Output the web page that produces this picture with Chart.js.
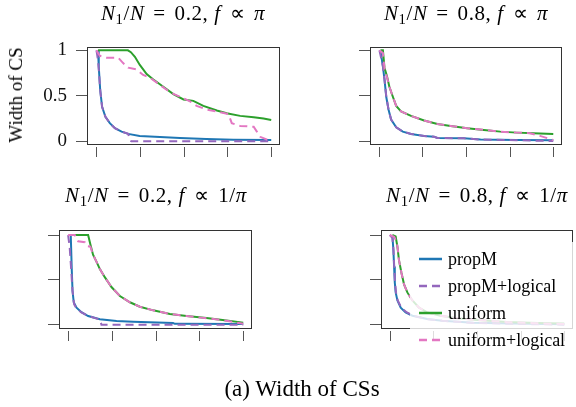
<!DOCTYPE html>
<html>
<head>
<meta charset="utf-8">
<script src="https://cdn.jsdelivr.net/npm/chart.js@4.4.1/dist/chart.umd.min.js"></script>
<style>
  body { margin: 0; background: #fff; }
  #wrap { position: relative; width: 576px; height: 407px; overflow: hidden; font-family: "Liberation Serif", serif; color: #000; }
  canvas { position: absolute; left: 0; top: 0; }
  .ttl { position: absolute; width: 300px; text-align: center; font-size: 21px; line-height: 22px; letter-spacing: 0.6px; white-space: nowrap; }
  .ttl sub { font-size: 0.7em; vertical-align: -0.25em; line-height: 0; }
  .rel { margin: 0 0.42em; font-style: normal; }
  #ylab { position: absolute; left: 16px; top: 95px; transform: translate(-50%, -50%) rotate(-90deg); font-size: 19px; white-space: nowrap; }
  #caption { position: absolute; left: 302px; top: 389px; transform: translate(-50%, -50%); font-size: 23px; white-space: nowrap; }
  #legend { position: absolute; left: 410px; top: 242px; width: 170px; height: 110px; background: rgba(255,255,255,0.8); z-index: 5; }
  .item { position: absolute; left: 0; height: 22px; line-height: 22px; font-size: 18px; white-space: nowrap; }
  .item svg { position: absolute; left: 9px; top: 9px; }
  .item span { position: absolute; left: 38px; top: 0; }
</style>
</head>
<body>
<div id="wrap">
  <canvas id="c1" width="576" height="407"></canvas>
  <canvas id="c2" width="576" height="407"></canvas>
  <canvas id="c3" width="576" height="407"></canvas>
  <canvas id="c4" width="576" height="407"></canvas>

  <div class="ttl" style="left:33px;top:2px"><i>N</i><sub>1</sub>/<i>N</i><span class="rel">=</span>0.2, <i>f</i><span class="rel">∝</span><i>π</i></div>
  <div class="ttl" style="left:316px;top:2px"><i>N</i><sub>1</sub>/<i>N</i><span class="rel">=</span>0.8, <i>f</i><span class="rel">∝</span><i>π</i></div>
  <div class="ttl" style="left:6px;top:184px"><i>N</i><sub>1</sub>/<i>N</i><span class="rel">=</span>0.2, <i>f</i><span class="rel">∝</span>1/<i>π</i></div>
  <div class="ttl" style="left:327px;top:184px"><i>N</i><sub>1</sub>/<i>N</i><span class="rel">=</span>0.8, <i>f</i><span class="rel">∝</span>1/<i>π</i></div>

  <div id="ylab">Width of CS</div>
  <div id="caption">(a) Width of CSs</div>
  <div id="legend"></div>
</div>

<script>
// series
const seriesNames = ['propM', 'propM+logical', 'uniform', 'uniform+logical'];
const seriesColors = ['#1f77b4', '#9467bd', '#2ca02c', '#e377c2'];
const seriesDashed = [false, true, false, true];

// axes
const xTicks = [0, 25, 50, 75, 100];
const yTicks = [0, 0.5, 1];
const yTickLabels = ['0', '0.5', '1'];

// panel 1: N1/N = 0.2, f ~ pi   ([x, width])
const p1PropM = [[1.3,1.0],[1.7,0.82],[2.5,0.57],[3.6,0.38],[5.5,0.27],[8,0.2],[10.9,0.144],[14.7,0.107],[18.5,0.082],[25,0.06],[36.6,0.047],[48,0.036],[63,0.025],[78.4,0.018],[100,0.014]];
const p1PropMLogical = [[0.4,1.0],[1.3,0.89],[1.9,0.74],[2.6,0.55],[3.6,0.38],[5.5,0.27],[8,0.2],[10.9,0.144],[14.7,0.107],[18.5,0.082],[19.5,0.01],[20.3,0],[100,0]];
const p1Uniform = [[1.3,1.0],[18.3,1.0],[20,0.98],[22.3,0.93],[25.1,0.84],[29,0.74],[32.8,0.68],[38.5,0.6],[44.2,0.52],[50,0.46],[55.6,0.445],[61.3,0.39],[69,0.34],[74.6,0.31],[82.3,0.28],[90,0.265],[95.6,0.25],[100,0.235]];
const p1UniformLogical = [[0.4,1.0],[2.3,0.94],[6.1,0.92],[12.8,0.92],[15.6,0.86],[18.5,0.81],[23.2,0.79],[27,0.73],[30.9,0.7],[36.6,0.62],[42.3,0.54],[48,0.49],[53.7,0.44],[57.5,0.39],[63.2,0.35],[70.9,0.32],[75.6,0.3],[77.5,0.2],[82.3,0.17],[90,0.16],[91.8,0.107],[93.7,0.05],[100,0.0]];

// panel 2: N1/N = 0.8, f ~ pi
const p2PropM = [[1.0,1.0],[2.4,0.82],[3.3,0.68],[4.3,0.49],[5.6,0.35],[7.1,0.24],[10,0.155],[13.8,0.107],[18.5,0.082],[26,0.06],[31.7,0.052],[33.6,0.037],[48.8,0.034],[58.3,0.02],[79,0.016],[100,0.013]];
const p2PropMLogical = [[0.4,1.0],[2.4,0.83],[3.3,0.68],[4.3,0.5],[5.6,0.35],[7.1,0.24],[10,0.155],[13.8,0.107],[18.5,0.082],[26,0.06],[31.7,0.05],[33.6,0.037],[48.8,0.033],[58.3,0.02],[79,0.013],[100,0.003]];
const p2Uniform = [[1.0,1.0],[2.4,1.0],[3.3,0.81],[4.8,0.71],[6.1,0.6],[8.1,0.49],[10,0.39],[12.8,0.33],[18.5,0.28],[26,0.23],[33.6,0.19],[41.2,0.17],[50.7,0.144],[60.2,0.126],[69.7,0.107],[79.1,0.096],[88.6,0.088],[100,0.081]];
const p2UniformLogical = [[0.4,1.0],[2.4,0.97],[3.3,0.8],[4.8,0.7],[6.1,0.6],[8.1,0.49],[10,0.39],[12.8,0.33],[18.5,0.28],[26,0.23],[33.6,0.19],[41.2,0.17],[50.7,0.144],[60.2,0.126],[69.7,0.107],[79.1,0.096],[86.7,0.09],[92.4,0.06],[100,0.015]];

// panel 3: N1/N = 0.2, f ~ 1/pi
const p3PropM = [[1.7,1.0],[2.3,0.6],[2.7,0.38],[3.4,0.25],[5,0.19],[7.8,0.14],[11.6,0.096],[18.3,0.06],[27.8,0.041],[37.3,0.034],[60,0.019],[61,0.01],[100,0.008]];
const p3PropMLogical = [[0.2,1.0],[1.1,0.86],[2,0.6],[2.7,0.38],[3.6,0.23],[5,0.18],[7.5,0.14],[11.3,0.1],[18.3,0.057],[19.2,0],[100,0]];
const p3Uniform = [[1.1,1.0],[11.6,1.0],[12.9,0.894],[14.4,0.78],[16.4,0.7],[18.3,0.62],[21.1,0.53],[24.9,0.42],[29.7,0.32],[35.4,0.25],[41.1,0.2],[48.7,0.16],[58.2,0.12],[67.7,0.096],[79.1,0.074],[90.5,0.048],[100,0.023]];
const p3UniformLogical = [[0.2,1.0],[4,1.0],[5.9,0.93],[9.7,0.92],[11,0.875],[12.9,0.87],[14.4,0.78],[16.4,0.7],[18.3,0.62],[21.1,0.53],[24.9,0.42],[29.7,0.32],[35.4,0.25],[41.1,0.2],[48.7,0.16],[58.2,0.12],[67.7,0.096],[79.1,0.072],[90.5,0.045],[100,0.01]];

// panel 4: N1/N = 0.8, f ~ 1/pi
const p4PropM = [[1.5,1.0],[2.1,0.83],[2.5,0.65],[2.9,0.47],[3.4,0.36],[4.4,0.27],[6.3,0.19],[9.1,0.137],[13,0.1],[21.5,0.063],[30,0.045],[48,0.023],[70,0.012],[100,0.005]];
const p4PropMLogical = [[0,1.0],[1.5,0.97],[2.1,0.85],[2.5,0.68],[3,0.48],[3.6,0.36],[4.6,0.27],[6.6,0.19],[9.6,0.14],[13.5,0.1],[21.5,0.062],[30,0.044],[48,0.02],[70,0.01],[100,0.0]];
const p4Uniform = [[1.5,1.0],[3.4,0.985],[4.4,0.87],[5.3,0.72],[6.7,0.58],[8.2,0.45],[10.1,0.36],[13,0.27],[16.8,0.19],[21.5,0.137],[29,0.1],[38,0.075],[48,0.056],[67,0.03],[85,0.018],[100,0.012]];
const p4UniformLogical = [[0,1.0],[2.5,0.98],[3.9,0.93],[4.6,0.85],[5.3,0.72],[6.7,0.58],[8.2,0.45],[10.1,0.36],[13,0.27],[16.8,0.19],[21.5,0.137],[29,0.1],[38,0.075],[48,0.056],[67,0.03],[85,0.016],[100,0.008]];

// where each plot frame sits on the page
const panels = [
  { id: 'c1', series: [p1PropM, p1PropMLogical, p1Uniform, p1UniformLogical], box: [87, 47, 280, 145], y: [-0.04, 1.037], labels: true },
  { id: 'c2', series: [p2PropM, p2PropMLogical, p2Uniform, p2UniformLogical], box: [370, 47, 562, 145], y: [-0.04, 1.037], labels: false },
  { id: 'c3', series: [p3PropM, p3PropMLogical, p3Uniform, p3UniformLogical], box: [59, 230, 252, 329], y: [-0.048, 1.056], labels: false },
  { id: 'c4', series: [p4PropM, p4PropMLogical, p4Uniform, p4UniformLogical], box: [381, 230, 573, 329], y: [-0.048, 1.056], labels: false }
];

// R-style frame plus detached x tick marks
const framePlugin = {
  id: 'frame',
  afterDatasetsDraw(chart) {
    const { ctx, chartArea: a, scales } = chart;
    ctx.save();
    ctx.strokeStyle = '#333';
    ctx.lineWidth = 1;
    ctx.strokeRect(Math.round(a.left) + 0.5, Math.round(a.top) + 0.5,
      Math.round(a.right - a.left) - 1, Math.round(a.bottom - a.top) - 1);
    ctx.strokeStyle = '#555';
    xTicks.forEach(v => {
      const x = Math.round(scales.x.getPixelForValue(v)) + 0.5;
      ctx.beginPath();
      ctx.moveTo(x, a.bottom + 2);
      ctx.lineTo(x, a.bottom + 12);
      ctx.stroke();
    });
    ctx.restore();
  }
};

Chart.defaults.font.family = '"Liberation Serif", serif';
Chart.defaults.animation = false;

panels.forEach(p => {
  const [L, T, R, B] = p.box;
  // y axis strip: wide enough for labels (labels are clipped to it)
  const axisW = p.labels ? 60 : 11;
  const datasets = p.series.map((pts, i) => ({
    label: seriesNames[i],
    data: pts.map(d => ({ x: d[0], y: d[1] })),
    borderColor: seriesColors[i],
    borderWidth: 2,
    borderDash: seriesDashed[i] ? [8, 5] : [],
    pointRadius: 0,
    tension: 0,
    fill: false,
    order: 3 - i  // later series drawn on top
  }));

  new Chart(document.getElementById(p.id), {
    type: 'line',
    data: { datasets },
    plugins: [framePlugin],
    options: {
      responsive: false,
      events: [],
      layout: { padding: { left: L - axisW, top: T, right: 576 - R, bottom: 407 - B } },
      plugins: { legend: { display: false }, title: { display: false }, tooltip: { enabled: false } },
      scales: {
        x: { type: 'linear', min: -5, max: 105, display: false },
        y: {
          min: p.y[0], max: p.y[1],
          afterBuildTicks: s => { s.ticks = yTicks.map(v => ({ value: v })); },
          afterFit: s => { s.width = axisW; },
          border: { display: false },
          grid: { drawOnChartArea: false, drawTicks: true, tickLength: 11, color: '#555' },
          ticks: {
            display: p.labels,
            padding: 9,
            color: '#111',
            font: { size: 19 },
            callback: (v, i) => yTickLabels[i]
          }
        }
      }
    }
  });
});

// legend (drawn over the last panel, like the original)
const legend = document.getElementById('legend');
seriesNames.forEach((name, i) => {
  const item = document.createElement('div');
  item.className = 'item';
  item.style.top = (6 + i * 27) + 'px';
  const dash = seriesDashed[i] ? ' stroke-dasharray="8,5"' : '';
  item.innerHTML = '<svg width="23" height="4"><line x1="0" y1="2" x2="23" y2="2" stroke="' +
    seriesColors[i] + '" stroke-width="2.5"' + dash + '/></svg><span>' + name + '</span>';
  legend.appendChild(item);
});
</script>
</body>
</html>
